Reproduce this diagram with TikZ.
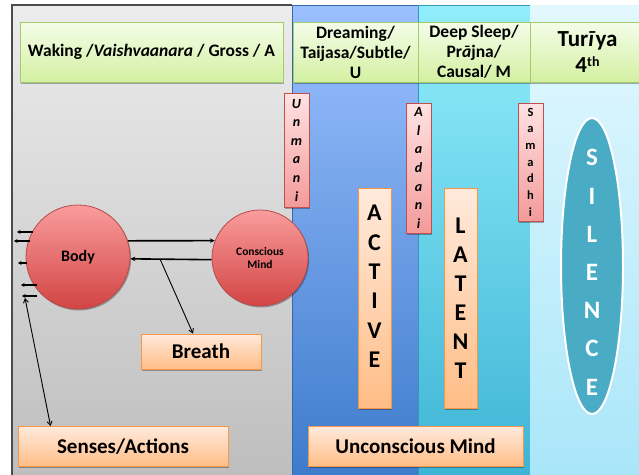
\documentclass[tikz,border=0pt]{standalone}
\usepackage{fontspec}
\setmainfont{Carlito}
\usetikzlibrary{arrows.meta,shadows,calc,shapes.geometric}
\definecolor{grayT}{HTML}{ECECEC}
\definecolor{grayB}{HTML}{BEBEBE}
\definecolor{blueT}{HTML}{9BC0FF}
\definecolor{blueB}{HTML}{3D7BCB}
\definecolor{cyanT}{HTML}{92EEFC}
\definecolor{cyanB}{HTML}{3DB4D5}
\definecolor{liteT}{HTML}{E3F8FE}
\definecolor{liteB}{HTML}{A9E6F9}
\definecolor{greenT}{HTML}{F4FDE9}
\definecolor{greenB}{HTML}{D3F0A1}
\definecolor{greenD}{HTML}{A3CB6B}
\definecolor{pinkT}{HTML}{FFE3E3}
\definecolor{pinkB}{HTML}{F39A9A}
\definecolor{pinkD}{HTML}{C0504D}
\definecolor{orT}{HTML}{FFEADC}
\definecolor{orB}{HTML}{FFBD86}
\definecolor{orD}{HTML}{F79646}
\definecolor{redT}{HTML}{FA9C9C}
\definecolor{redB}{HTML}{D24444}
\definecolor{redD}{HTML}{B74B4B}
\definecolor{silF}{HTML}{4AABC5}
\begin{document}
\begin{tikzpicture}[x=1pt,y=-1pt,
  shadowed/.style={drop shadow={shadow xshift=1.2pt,shadow yshift=-1.5pt,opacity=0.3,fill=black}},
  gbox/.style={shadowed,draw=greenD,line width=0.9pt,top color=greenT,bottom color=greenB,inner sep=0pt,align=center,font=\fontsize{17.5}{20}\selectfont\bfseries},
  pbox/.style={shadowed,draw=pinkD,line width=0.9pt,top color=pinkT,bottom color=pinkB,inner sep=0pt,align=center,minimum width=25pt},
  obox/.style={shadowed,draw=orD,line width=0.9pt,top color=orT,bottom color=orB,inner sep=0pt,align=center},
  ball/.style={circle,shadowed,draw=redD,line width=0.8pt,top color=redT,bottom color=redB,inner sep=0pt,align=center,font=\bfseries},
  bigarrow/.style={line width=1.6pt,-{Stealth[length=5pt,width=4.5pt]}},
  thinarrow/.style={line width=0.9pt,-{Straight Barb[length=4pt,width=5pt]}},
  tinyarrow/.style={line width=1.6pt,-{Stealth[length=3.5pt,width=4pt]}}
]
\useasboundingbox (0,0) rectangle (639,474);
\fill[white] (0,0) rectangle (639,474);
% panels
\path[top color=grayT,bottom color=grayB] (12,5) rectangle (292,476);
\draw[line width=1.2pt,draw=black!70] (12,476) -- (12,5) -- (292,5);
\path[top color=blueT,bottom color=blueB,draw=blueB!85!black,line width=0.6pt] (292,5) rectangle (418,478);
\path[top color=cyanT,bottom color=cyanB,draw=cyanB!85!black,line width=0.6pt] (418,5) rectangle (530,478);
\path[top color=liteT,bottom color=liteB] (530,5) rectangle (642,478);

% header boxes
\node[gbox,minimum width=263pt,minimum height=60pt] (waking) at (151.5,52) {Waking /\textit{Vaishvaanara} / Gross / A};
\node[gbox,minimum width=125pt,minimum height=60pt] (dream) at (355.5,52) {Dreaming/\\Taijasa/Subtle/\\U};
\node[gbox,minimum width=112pt,minimum height=60pt] (deep) at (474,52) {Deep Sleep/\\Pr\textit{ā}jna/\\Causal/ M};
\node[gbox,minimum width=115pt,minimum height=60pt,font=\fontsize{23}{26}\selectfont\bfseries] (turiya) at (587.5,52) {Tur\textit{ī}ya\\4\raisebox{6pt}{\fontsize{14}{14}\selectfont th}};

% pink vertical boxes
\node[pbox,minimum height=114pt,font=\fontsize{14}{18.6}\selectfont\bfseries\itshape] (unmani) at (296.5,150) {U\\n\\m\\a\\n\\i};
\node[pbox,minimum height=130pt,font=\fontsize{14}{18.7}\selectfont\bfseries\itshape] (aladani) at (418.5,168) {A\\l\\a\\d\\a\\n\\i};
\node[pbox,minimum height=118pt,font=\fontsize{12.5}{16.7}\selectfont\bfseries] (samadhi) at (530.5,162) {S\\a\\m\\a\\d\\h\\i};

% orange boxes
\node[obox,minimum width=33pt,minimum height=220pt,font=\fontsize{24}{29.4}\selectfont\bfseries] (active) at (374.5,298) {A\\C\\T\\I\\V\\E\rule[-23pt]{0pt}{0pt}};
\node[obox,minimum width=33pt,minimum height=220pt,font=\fontsize{24}{29}\selectfont\bfseries] (latent) at (460.5,298) {L\\A\\T\\E\\N\\T};
\node[obox,minimum width=120pt,minimum height=35pt,font=\fontsize{21}{24}\selectfont\bfseries] (breath) at (201,351.5) {Breath};
\node[obox,minimum width=210pt,minimum height=40pt,font=\fontsize{21}{24}\selectfont\bfseries] (senses) at (123,446.5) {Senses/Actions};
\node[obox,minimum width=215pt,minimum height=40pt,font=\fontsize{21}{24}\selectfont\bfseries] (uncon) at (415.5,446.5) {Unconscious Mind};

% circles
\node[ball,minimum size=104pt,font=\fontsize{16}{18}\selectfont\bfseries] (body) at (78,257) {Body};
\node[ball,minimum size=96pt,font=\fontsize{11.5}{13.3}\selectfont\bfseries] (mind) at (260,258) {Conscious\\Mind};

% silence
\node[ellipse,draw=white,line width=2pt,fill=silF,minimum width=62pt,minimum height=296pt,inner xsep=-10pt,inner ysep=-60pt,align=center,text=white,font=\fontsize{25}{38.2}\selectfont\bfseries] (silence) at (592,266) {\rule{0pt}{29pt}S\\I\\L\\E\\N\\C\\E};

% arrows between body and mind
\draw[bigarrow] (body.18) -- (mind.159);
\draw[bigarrow] (mind.182) -- (body.-2);
\coordinate (bsplit) at (160,259);
\draw[thinarrow] (bsplit) -- ($(breath.north)+(-8,0)$);

% small arrows at left of body
\coordinate (s1a) at (33,232); \coordinate (s1b) at (17,232);
\coordinate (s2a) at (30,241); \coordinate (s2b) at (14,241);
\coordinate (s3a) at (27,263); \coordinate (s3b) at (18,263);
\coordinate (s4a) at (37,285); \coordinate (s4b) at (21,285);
\coordinate (s5a) at (37,296); \coordinate (s5b) at (22,296);
\draw[tinyarrow] (s1a) -- (s1b);
\draw[tinyarrow] (s2a) -- (s2b);
\draw[tinyarrow] (s3a) -- (s3b);
\draw[tinyarrow] (s4a) -- (s4b);
\draw[tinyarrow] (s5a) -- (s5b);

% senses double arrow
\coordinate (stop) at (25,298);
\draw[line width=0.9pt,{Straight Barb[length=4pt,width=5pt]}-{Straight Barb[length=4pt,width=5pt]}] (stop) -- ($(senses.north west)+(33,0)$);
\end{tikzpicture}
\end{document}
